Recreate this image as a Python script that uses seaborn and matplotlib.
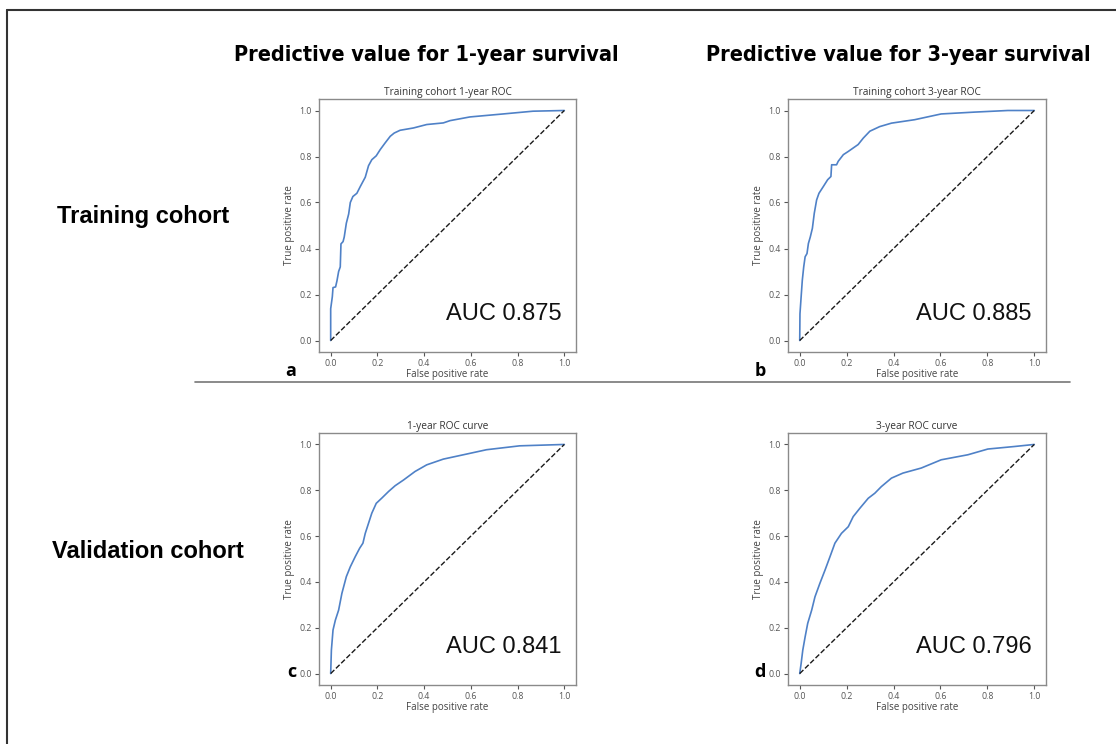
import numpy as np
import pandas as pd
import matplotlib
matplotlib.use("Agg")
import matplotlib.pyplot as plt
from matplotlib.lines import Line2D
import seaborn as sns

# ROC points
fpr_train_1y = [0.0, 0.0, 0.007, 0.01, 0.021, 0.027, 0.034, 0.041, 0.044, 0.053, 0.058, 0.067,
                0.077, 0.084, 0.095, 0.112, 0.127, 0.148, 0.162, 0.176, 0.195, 0.212, 0.233,
                0.255, 0.272, 0.297, 0.354, 0.411, 0.482, 0.511, 0.596, 0.738, 0.866, 1.0]
tpr_train_1y = [0.0, 0.138, 0.19, 0.23, 0.233, 0.26, 0.30, 0.32, 0.42, 0.43, 0.45, 0.51,
                0.55, 0.60, 0.626, 0.64, 0.67, 0.71, 0.76, 0.786, 0.803, 0.83, 0.859,
                0.888, 0.902, 0.914, 0.924, 0.939, 0.946, 0.956, 0.972, 0.985, 0.997, 1.0]

fpr_train_3y = [0.0, 0.001, 0.006, 0.011, 0.017, 0.023, 0.031, 0.037, 0.045, 0.054, 0.062,
                0.072, 0.082, 0.101, 0.119, 0.133, 0.136, 0.157, 0.164, 0.186, 0.207, 0.228,
                0.249, 0.271, 0.299, 0.341, 0.391, 0.49, 0.603, 0.745, 0.887, 1.0]
tpr_train_3y = [0.0, 0.116, 0.19, 0.262, 0.32, 0.364, 0.378, 0.422, 0.45, 0.488, 0.553,
                0.611, 0.64, 0.67, 0.699, 0.713, 0.764, 0.764, 0.779, 0.808, 0.822, 0.837,
                0.852, 0.88, 0.91, 0.93, 0.945, 0.96, 0.985, 0.993, 1.0, 1.0]

fpr_valid_1y = [0.0, 0.003, 0.01, 0.02, 0.034, 0.048, 0.067, 0.084, 0.105, 0.124, 0.138,
                0.148, 0.162, 0.176, 0.195, 0.219, 0.248, 0.276, 0.312, 0.361, 0.411, 0.482,
                0.568, 0.667, 0.809, 1.0]
tpr_valid_1y = [0.0, 0.102, 0.19, 0.233, 0.277, 0.35, 0.423, 0.466, 0.51, 0.547, 0.569,
                0.612, 0.656, 0.70, 0.743, 0.766, 0.795, 0.82, 0.845, 0.882, 0.911, 0.936,
                0.955, 0.977, 0.994, 1.0]

fpr_valid_3y = [0.0, 0.006, 0.013, 0.023, 0.034, 0.051, 0.065, 0.086, 0.108, 0.129, 0.15,
                0.178, 0.207, 0.228, 0.256, 0.292, 0.32, 0.348, 0.391, 0.44, 0.518, 0.603,
                0.717, 0.802, 0.915, 1.0]
tpr_valid_3y = [0.0, 0.044, 0.102, 0.16, 0.219, 0.277, 0.335, 0.394, 0.452, 0.51, 0.569,
                0.612, 0.641, 0.685, 0.721, 0.765, 0.787, 0.816, 0.853, 0.875, 0.897, 0.933,
                0.955, 0.98, 0.991, 1.0]

panel_titles = ["Training cohort 1-year ROC", "Training cohort 3-year ROC",
                "1-year ROC curve", "3-year ROC curve"]
auc_values = [0.875, 0.885, 0.841, 0.796]
panel_letters = ["a", "b", "c", "d"]
col_titles = ["Predictive value for 1-year survival", "Predictive value for 3-year survival"]
row_titles = ["Training cohort", "Validation cohort"]

sns.set_theme(style="ticks")
plt.rcParams['font.family'] = ['Open Sans', 'DejaVu Sans']

W, H = 1116, 744
fig = plt.figure(figsize=(W / 100, H / 100), dpi=100)

# axes boxes in pixels: left, top, right, bottom
boxes = [(319, 99, 576, 352), (788, 99, 1046, 352),
         (319, 433, 576, 685), (788, 433, 1046, 685)]
curves = [(fpr_train_1y, tpr_train_1y), (fpr_train_3y, tpr_train_3y),
          (fpr_valid_1y, tpr_valid_1y), (fpr_valid_3y, tpr_valid_3y)]

grey = "#8a8a8a"
for i, ((l, t, r, b), (fpr, tpr)) in enumerate(zip(boxes, curves)):
    ax = fig.add_axes([l / W, 1 - b / H, (r - l) / W, (b - t) / H])
    df = pd.DataFrame({"fpr": fpr, "tpr": tpr})
    sns.lineplot(data=df, x="fpr", y="tpr", sort=False, estimator=None,
                 color="#4f81c7", linewidth=1.2, ax=ax)
    ax.plot([0, 1], [0, 1], "k--", linewidth=1)
    ax.set_xlim(-0.05, 1.05)
    ax.set_ylim(-0.05, 1.05)
    ax.set_xticks(np.arange(0, 1.01, 0.2))
    ax.set_yticks(np.arange(0, 1.01, 0.2))
    ax.tick_params(labelsize=6.3, colors="#555555", length=3, width=0.8, pad=2)
    for s in ax.spines.values():
        s.set_color(grey)
        s.set_linewidth(1)
    ax.set_xlabel("False positive rate", fontsize=7, color="#444444", labelpad=1)
    ax.set_ylabel("True positive rate", fontsize=7, color="#444444", labelpad=3)
    ax.set_title(panel_titles[i], fontsize=7.3, color="#333333", pad=3)
    ax.text(0.99, 0.115, f"AUC {auc_values[i]:.3f}", ha="right", va="center",
            fontsize=17, family="Liberation Sans", color="#111111")

# panel letters
letter_pos = [(291, 371), (760, 371), (292, 672), (760, 672)]
for (x, y), letter in zip(letter_pos, panel_letters):
    fig.text(x / W, 1 - y / H, letter, fontsize=13, fontweight="bold",
             family="Open Sans", ha="center", va="center", color="black")

# column headers (condensed bold)
for xc, title in zip([426, 898], col_titles):
    fig.text(xc / W, 1 - 55 / H, title, fontsize=15.5, fontweight="bold",
             fontstretch="condensed", family="DejaVu Sans",
             ha="center", va="center", color="black")

# row headers
for (xc, yc), title in zip([(143, 216), (148, 552)], row_titles):
    fig.text(xc / W, 1 - yc / H, title, fontsize=17, fontweight="bold",
             family="Liberation Sans", ha="center", va="center", color="black")

# separator between cohorts and outer frame
fig.add_artist(Line2D([195 / W, 1070 / W], [1 - 382 / H, 1 - 382 / H],
                      color="#777777", linewidth=1.2))
fig.add_artist(Line2D([7 / W, 7 / W], [0, 1 - 10 / H], color="#333333", linewidth=1.5))
fig.add_artist(Line2D([7 / W, 1], [1 - 10 / H, 1 - 10 / H], color="#333333", linewidth=1.5))

fig.savefig("out.png", dpi=100)
